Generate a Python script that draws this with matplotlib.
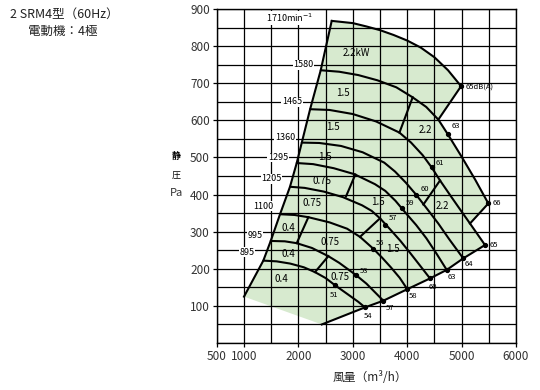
import numpy as np
import matplotlib
matplotlib.use("Agg")
import matplotlib.pyplot as plt

plt.rcParams['font.family'] = ['Noto Sans CJK JP', 'DejaVu Sans']

# ---------------- data (air flow m3/h, static pressure Pa) ----------------
rpm_labels = ["1710", "1580", "1465", "1360", "1295", "1205", "1100", "995", "895"]

Q1710 = [2612, 3000, 3250, 3500, 3750, 4000, 4250, 4500, 4750, 4990]
P1710 = [868, 862, 853, 843, 830, 815, 796, 770, 735, 692]

Q1580 = [2410, 2750, 3100, 3450, 3800, 4100, 4350, 4572, 4744, 5000, 5250, 5491]
P1580 = [735, 731, 722, 708, 689, 662, 636, 602, 563, 502, 440, 376]

Q1465 = [2215, 2571, 3000, 3428, 3857, 4071, 4285, 4450, 4603, 4800, 5000, 5154, 5430]
P1465 = [630, 628, 617, 597, 567, 540, 506, 473, 438, 396, 354, 322, 264]

Q1360 = [2062, 2385, 2783, 3180, 3578, 3776, 3975, 4162, 4373, 4571, 4770, 5030]
P1360 = [540, 539, 531, 514, 486, 462, 432, 400, 360, 322, 280, 228]

Q1295 = [1969, 2271, 2650, 3028, 3407, 3596, 3785, 3974, 4164, 4353, 4542, 4726]
P1295 = [485, 482, 471, 455, 428, 410, 383, 350, 318, 282, 240, 197]

Q1205 = [1845, 2114, 2467, 2819, 3171, 3347, 3500, 3700, 3876, 4052, 4228, 4419]
P1205 = [421, 418, 408, 393, 371, 356, 336, 304, 275, 243, 210, 174]

Q1100 = [1662, 1930, 2183, 2573, 2895, 3132, 3377, 3538, 3699, 3860, 4002]
P1100 = [347, 345, 339, 325, 308, 286, 254, 230, 204, 176, 145]

Q995 = [1491, 1750, 1969, 2250, 2550, 2750, 3059, 3250, 3561]
P995 = [275, 274, 269, 256, 234, 216, 183, 160, 114]

Q895 = [1355, 1600, 1850, 2100, 2305, 2500, 2670, 2900, 3100, 3224]
P895 = [222, 220, 214, 204, 191, 175, 156, 132, 111, 96]

# left limit line and lower (system) line
left_Q = [1000, 1355, 1491, 1662, 1845, 1969, 2062, 2215, 2410, 2612]
left_P = [125, 222, 275, 347, 421, 485, 540, 630, 735, 868]
low_Q = [2430, 3224, 3561, 4002, 4419, 4726, 5030, 5430]
low_P = [50, 96, 114, 145, 174, 197, 228, 264]
low_dB = ["54", "57", "58", "60", "63", "64", "65"]

# outer limit connecting lines
lim1_Q = [4990, 4572]
lim1_P = [692, 602]
lim2_Q = [5491, 5154]
lim2_P = [376, 322]

# motor output boundary segments (top point, bottom point)
seg_Q = [[4100, 3857], [4603, 4296], [3046, 2875], [3500, 3132], [2183, 1969], [2550, 2305]]
seg_P = [[662, 567], [438, 373], [454, 395], [336, 286], [339, 269], [234, 191]]

# motor output labels
kw_text = ["2.2kW", "1.5", "2.2", "1.5", "1.5", "2.2", "0.75", "1.5", "0.75",
           "1.5", "0.4", "0.75", "0.4", "0.75", "0.4"]
kw_Q = [3071, 2825, 4327, 2642, 2489, 4653, 2428, 3469, 2244, 3745, 1815, 2581, 1815, 2765, 1693]
kw_P = [781, 673, 574, 581, 500, 369, 437, 381, 376, 253, 309, 273, 239, 179, 172]

# noise points on curves
mid_dB = ["65dB(A)", "66", "63", "61", "60", "59", "57", "55", "53", "51"]
mid_Q = [4990, 5491, 4744, 4450, 4162, 3898, 3592, 3377, 3059, 2670]
mid_P = [692, 376, 563, 473, 400, 363, 318, 254, 183, 156]

# ---------------- figure ----------------
fig = plt.figure(figsize=(5.4, 3.9), dpi=100)
ax = fig.add_axes([0.4015, 0.1205, 0.5541, 0.8564])
ax.set_xlim(500, 6000)
ax.set_ylim(0, 900)

green = '#d7eacf'
# shaded operating range
pq = list(left_Q) + list(Q1710[1:])
pp = list(left_P) + list(P1710[1:])
pq += [q for q in Q1580 if q >= lim1_Q[1]]
pp += [p for q, p in zip(Q1580, P1580) if q >= lim1_Q[1]]
pq += [q for q in Q1465 if q >= lim2_Q[1]]
pp += [p for q, p in zip(Q1465, P1465) if q >= lim2_Q[1]]
pq += list(low_Q[::-1])
pp += list(low_P[::-1])
ax.fill(pq, pp, color=green, lw=0, zorder=0.5)

# grid
ax.set_xticks([500, 1000, 2000, 3000, 4000, 5000, 6000])
ax.set_xticks(np.arange(500, 6001, 500), minor=True)
ax.set_yticks(np.arange(100, 901, 100))
ax.set_yticks(np.arange(0, 901, 50), minor=True)
ax.grid(which='both', color='black', lw=0.9, zorder=1)
ax.set_axisbelow(False)
ax.tick_params(which='both', length=3, width=0.9, color='black', labelsize=8.5,
               labelcolor='#333333', pad=2)
ax.tick_params(which='minor', length=0)
for s in ax.spines.values():
    s.set_linewidth(1.0)
    s.set_zorder(3)

lw = 1.5
curves = [(Q1710, P1710), (Q1580, P1580), (Q1465, P1465), (Q1360, P1360), (Q1295, P1295),
          (Q1205, P1205), (Q1100, P1100), (Q995, P995), (Q895, P895)]
for q, p in curves:
    ax.plot(q, p, color='black', lw=lw, zorder=4, solid_capstyle='round')
ax.plot(left_Q, left_P, color='black', lw=lw, zorder=4)
ax.plot(low_Q, low_P, color='black', lw=lw, zorder=4)
ax.plot(lim1_Q, lim1_P, color='black', lw=lw, zorder=4)
ax.plot(lim2_Q, lim2_P, color='black', lw=lw, zorder=4)
for q, p in zip(seg_Q, seg_P):
    ax.plot(q, p, color='black', lw=lw, zorder=4)

# rpm labels
rpm_Q = [1846, 2090, 1882, 1754, 1625, 1509, 1349, 1202, 1050]
rpm_P = [876, 750, 650, 553, 500, 442, 369, 291, 245]
for t, q, p in zip(rpm_labels, rpm_Q, rpm_P):
    txt = t + "min$^{-1}$" if t == "1710" else t
    ax.text(q, p, txt, fontsize=6.5, ha='center', va='center', zorder=5,
            bbox=dict(facecolor='white', edgecolor='none', pad=0.3))

for t, q, p in zip(kw_text, kw_Q, kw_P):
    ax.text(q, p, t, fontsize=7, ha='center', va='center', zorder=5)

# noise points
ax.plot(mid_Q, mid_P, 'o', color='black', ms=2.8, zorder=6)
ax.plot(low_Q[1:], low_P[1:], 'o', color='black', ms=2.8, zorder=6)
mid_off = [(3, 0), (3, 0), (3, 6), (3, 3), (3, 4), (3, 4), (3, 5), (2, 4), (3, 3), (-4, -7)]
for t, q, p, o in zip(mid_dB, mid_Q, mid_P, mid_off):
    ax.annotate(t, (q, p), xytext=o, textcoords='offset points', fontsize=5.5,
                ha='left', va='center', zorder=6)
low_off = [(-1, -6), (2, -5), (1, -5), (-1, -6), (1, -5), (1, -4), (3, 0)]
for t, q, p, o in zip(low_dB, low_Q[1:], low_P[1:], low_off):
    ax.annotate(t, (q, p), xytext=o, textcoords='offset points', fontsize=5.5,
                ha='left', va='center', zorder=6)

# titles and axis labels
fig.text(0.0185, 0.964, "2 SRM4型（60Hz）", fontsize=9, ha='left', va='center', color='#222222')
fig.text(0.052, 0.919, "電動機：4極", fontsize=9, ha='left', va='center', color='#222222')
fig.text(0.326, 0.598, "静", fontsize=6.5, ha='center', va='center', fontweight='bold')
fig.text(0.326, 0.551, "圧", fontsize=6.5, ha='center', va='center')
fig.text(0.326, 0.504, "Pa", fontsize=8, ha='center', va='center', color='#333333')
fig.text(0.685, 0.033, "風量（m³/h）", fontsize=8.5, ha='center', va='center', color='#222222')

fig.savefig("out.png", dpi=100)
